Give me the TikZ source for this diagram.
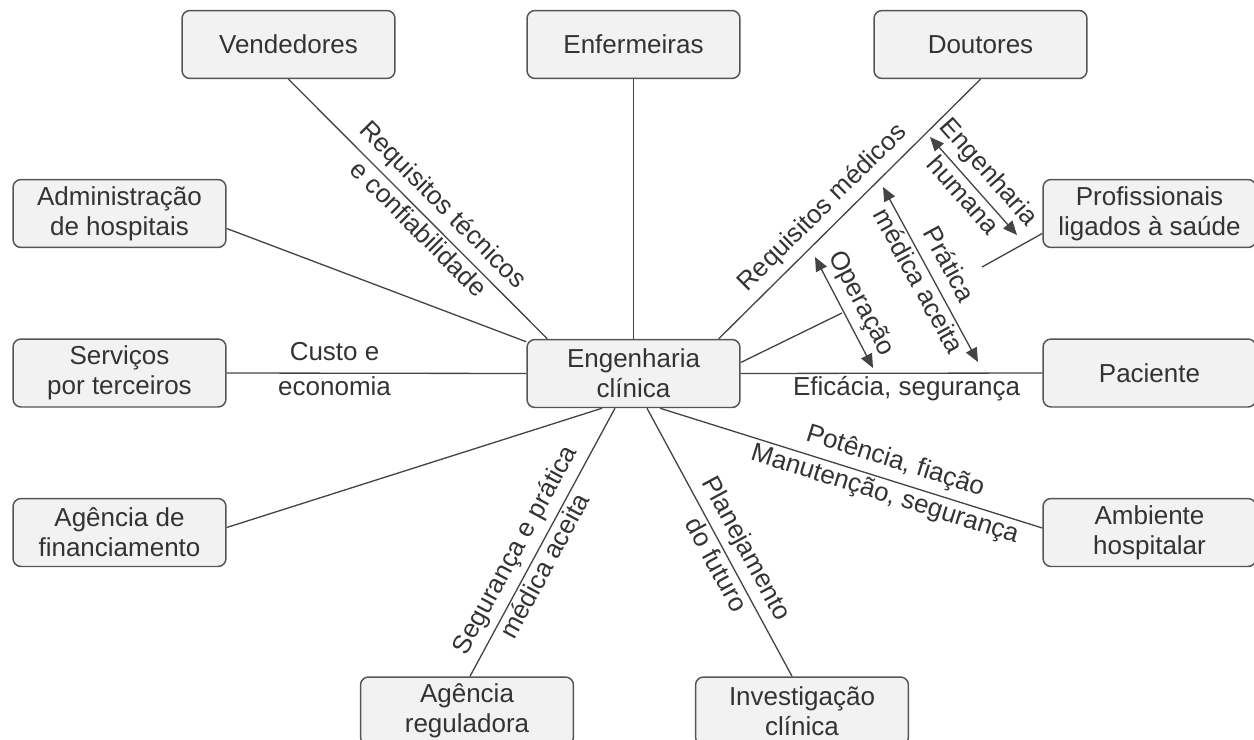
\documentclass[tikz,border=0pt]{standalone}
\usepackage{fontspec}
\setmainfont{Liberation Sans}
\usetikzlibrary{calc,arrows.meta}
\definecolor{boxfill}{HTML}{F2F2F2}
\definecolor{boxline}{HTML}{555555}
\definecolor{txtcol}{HTML}{333333}
\definecolor{wirecol}{HTML}{444444}

\begin{document}
\begin{tikzpicture}[x=0.02cm, y=-0.02cm,
box/.style={draw=boxline, line width=0.85pt, rounded corners=0.16cm, fill=boxfill, text=txtcol, minimum width=4.26cm, minimum height=1.36cm, align=center, inner sep=0pt, font=\fontsize{14.8}{17.2}\selectfont},
lbl/.style={text=txtcol, font=\fontsize{14.8}{17.2}\selectfont, text height=0.75em, text depth=0.2em, inner sep=4.8pt},
wire/.style={draw=wirecol, line width=0.75pt},
>={Triangle[length=0.28cm,width=0.24cm]}]
	\useasboundingbox (0,0) rectangle (1254,740);
	% boxes
	\node[box] at (288.5,44.5) (vend) {Vendedores};
	\node[box] at (633.5,44.5) (enf) {Enfermeiras};
	\node[box] at (980.5,44.5) (dout) {Doutores};
	\node[box] at (119.5,213.5) (admin) {Administração\\de hospitais};
	\node[box] at (1149.5,213.5) (prof) {Profissionais\\ligados à saúde};
	\node[box] at (119.5,373) (serv) {Serviços\\por terceiros};
	\node[box] at (633.5,373.5) (eng) {Engenharia\\clínica};
	\node[box] at (1149.5,373) (pac) {Paciente};
	\node[box] at (119.5,532.5) (fin) {Agência de\\financiamento};
	\node[box] at (1149.5,532.5) (amb) {Ambiente\\hospitalar};
	\node[box] at (467,711) (reg) {Agência\\reguladora};
	\node[box] at (802,711) (inv) {Investigação\\clínica};
	% free ends
	\coordinate (s1) at (842,313);
	\coordinate (s2) at (982,267);
	\coordinate (a1s) at (930,137);
	\coordinate (a1e) at (1017,235);
	\coordinate (a2s) at (883,187);
	\coordinate (a2e) at (978,362);
	\coordinate (a3s) at (815,257);
	\coordinate (a3e) at (873,368);
	% links
	\draw[wire] (vend.south) -- node[lbl, pos=0.54, sloped, above] {Requisitos técnicos} node[lbl, pos=0.54, sloped, below] {e confiabilidade} ($(eng.north west)+(21,0)$);
	\draw[wire] (enf.south) -- (eng.north);
	\draw[wire] (dout.south) -- node[lbl, pos=0.55, sloped, above] {Requisitos médicos} ($(eng.north east)+(-22,0)$);
	\draw[wire] ($(admin.east)+(0,15)$) -- ($(eng.north west)+(0,3)$);
	\draw[wire] (serv.east) -- node[lbl, pos=0.36, above] {Custo e} node[lbl, pos=0.36, below] {economia} (eng.west);
	\draw[wire] (eng.east) -- node[lbl, pos=0.55, below] {Eficácia, segurança} (pac.west);
	\draw[wire] ($(fin.east)+(0,-5)$) -- ($(eng.south)+(-31.5,0)$);
	\draw[wire] ($(reg.north)+(3,0)$) -- node[lbl, pos=0.435, sloped, above] {Segurança e prática} node[lbl, pos=0.435, sloped, below] {médica aceita} ($(eng.south)+(-18.5,0)$);
	\draw[wire] ($(inv.north)+(-10,0)$) -- node[lbl, pos=0.44, sloped, above] {Planejamento} node[lbl, pos=0.44, sloped, below] {do futuro} ($(eng.south)+(13.5,0)$);
	\draw[wire] ($(amb.west)+(0,-4.5)$) -- node[lbl, pos=0.4, sloped, above] {Potência, fiação} node[lbl, pos=0.4, sloped, below] {Manutenção, segurança} ($(eng.south)+(26.5,0)$);
	\draw[wire] ($(eng.east)+(0,-11)$) -- (s1);
	\draw[wire] ($(prof.west)+(0,20)$) -- (s2);
	% arrows
	\draw[wire, <->] (a1s) -- node[lbl, midway, sloped, above] {Engenharia} node[lbl, midway, sloped, below] {humana} (a1e);
	\draw[wire, <->] (a2s) -- node[lbl, midway, sloped, above] {Prática} node[lbl, midway, sloped, below] {médica aceita} (a2e);
	\draw[wire, <->] (a3s) -- node[lbl, midway, sloped, above] {Operação} (a3e);
\end{tikzpicture}
\end{document}
